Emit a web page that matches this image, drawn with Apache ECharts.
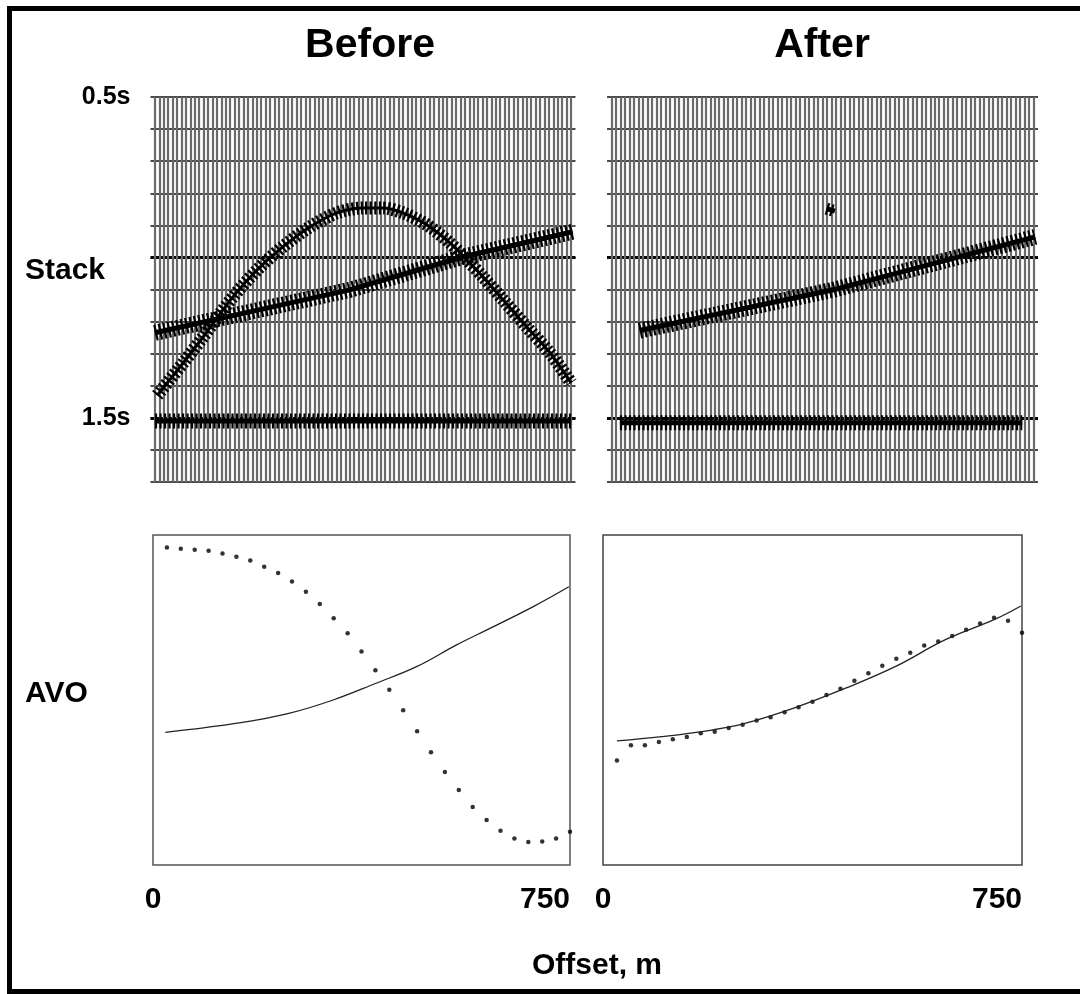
<!DOCTYPE html>
<html>
<head>
<meta charset="utf-8">
<script src="https://cdn.jsdelivr.net/npm/echarts@6/dist/echarts.min.js"></script>
<style>
  html, body { margin: 0; padding: 0; background: #fff; overflow: hidden; }
  #chart { width: 1080px; height: 994px; }
</style>
</head>
<body>
<div id="chart"></div>
<script>
// stack events, [offset m, time s]
let beforeLinear = [[0, 1.235], [352, 1.101], [557, 0.998], [755, 0.92]]
let beforeCurve = [[4, 1.43], [51, 1.329], [87, 1.248], [141, 1.123], [190, 1.03], [231, 0.967],
  [280, 0.905], [329, 0.861], [376, 0.846], [412, 0.846], [448, 0.861], [492, 0.899],
  [533, 0.955], [564, 1.008], [593, 1.061], [629, 1.132], [672, 1.217], [714, 1.298], [752, 1.391]]
let beforeFlat = [[0, 1.51], [752, 1.51]]
let afterLinear = [[50, 1.228], [395, 1.101], [755, 0.936]]
let afterFlat = [[15, 1.515], [732, 1.515]]
let afterBlip = [[383, 0.848], [398, 0.856]]
let timeLabels = {0.5: '0.5s', 1.5: '1.5s'}

// AVO amplitudes (relative, 0-100)
let avoOffsets = [25, 50, 75, 100, 125, 150, 175, 200, 225, 250, 275, 300, 325, 350, 375,
  400, 425, 450, 475, 500, 525, 550, 575, 600, 625, 650, 675, 700, 725, 750]
let beforeDots = [96.2, 95.8, 95.5, 95.2, 94.4, 93.4, 92.3, 90.4, 88.5, 85.9, 82.8, 79.1, 74.8, 70.2, 64.7,
  59.0, 53.1, 46.9, 40.5, 34.2, 28.2, 22.7, 17.6, 13.6, 10.4, 8.0, 7.0, 7.1, 8.0, 10.1]
let afterDots = [31.7, 36.3, 36.3, 37.3, 38.1, 38.8, 39.9, 40.4, 41.5, 42.5, 43.8, 44.8, 46.3, 47.8, 49.5,
  51.5, 53.4, 55.8, 58.1, 60.4, 62.5, 64.3, 66.5, 67.7, 69.4, 71.3, 73.2, 74.9, 74.0, 70.4]
let beforeFitX = [22, 97, 175, 246, 324, 400, 474, 546, 606, 684, 748]
let beforeFitY = [40.2, 41.7, 43.6, 46.0, 50.0, 55.0, 60.1, 66.7, 71.7, 78.3, 84.3]
let afterFitX = [25, 105, 195, 254, 344, 433, 523, 612, 702, 748]
let afterFitY = [37.6, 38.9, 40.9, 42.9, 47.7, 53.5, 60.1, 68.2, 74.5, 78.5]

let font = '"Liberation Sans", Arial, Helvetica, sans-serif'
let zip = (xs, ys) => xs.map((x, i) => [x, ys[i]])

function traceAxis(grid) {
  return {
    type: 'value', gridIndex: grid, min: -8, max: 760, interval: 8,
    axisLine: {show: false}, axisTick: {show: false}, axisLabel: {show: false},
    splitLine: {show: true, showMinLine: false, showMaxLine: false,
      lineStyle: {color: '#6a6a6a', width: 2.2}}
  }
}

function timeAxis(grid) {
  return {
    type: 'value', gridIndex: grid, inverse: true, position: 'left',
    min: 0.5, max: 1.7, interval: 0.1,
    axisLine: {show: false}, axisTick: {show: false}, axisLabel: {show: false},
    splitLine: {show: true, lineStyle: {color: '#111', width: 1.5}}
  }
}

function boldAxis(grid, labels) {
  return {
    type: 'value', gridIndex: grid, inverse: true, position: 'left',
    min: 0.5, max: 1.7, interval: 0.5,
    axisLine: {show: false}, axisTick: {show: false},
    axisLabel: {show: labels, showMaxLabel: false, margin: 20,
      formatter: v => timeLabels[v] || '',
      color: '#000', fontFamily: font, fontWeight: 'bold', fontSize: 25},
    splitLine: {show: true, showMinLine: false, showMaxLine: false,
      lineStyle: {color: '#000', width: 3}}
  }
}

function offsetAxis(grid) {
  return {
    type: 'value', gridIndex: grid, min: 0, max: 750, interval: 750,
    axisLine: {show: false}, axisTick: {show: false}, splitLine: {show: false},
    axisLabel: {show: true, margin: 20, alignMaxLabel: 'right',
      color: '#000', fontFamily: font, fontWeight: 'bold', fontSize: 30}
  }
}

function ampAxis(grid) {
  return {
    type: 'value', gridIndex: grid, min: 0, max: 100,
    axisLine: {show: false}, axisTick: {show: false}, axisLabel: {show: false},
    splitLine: {show: false}
  }
}

// an event drawn as a hatched band with a solid core
function event(data, axis, core, band, smooth) {
  let base = {type: 'line', xAxisIndex: axis, yAxisIndex: axis * 2, data: data,
    symbol: 'none', smooth: smooth || false, silent: true, animation: false}
  return [
    Object.assign({}, base, {lineStyle: {color: '#000', width: band, type: [2.2, 2.3], cap: 'butt'}}),
    Object.assign({}, base, {lineStyle: {color: '#000', width: core}})
  ]
}

function avo(axis, dots, fit) {
  return [
    {type: 'scatter', xAxisIndex: axis, yAxisIndex: axis + 2, data: dots,
      symbolSize: 4.5, itemStyle: {color: '#000'}, silent: true, animation: false},
    {type: 'line', xAxisIndex: axis, yAxisIndex: axis + 2, data: fit, smooth: 0.4,
      symbol: 'none', lineStyle: {color: '#222', width: 1.3}, silent: true, animation: false}
  ]
}

let chart = echarts.init(document.getElementById('chart'))
chart.setOption({
  backgroundColor: '#fff',
  animation: false,
  grid: [
    {left: 150.5, top: 97, width: 425, height: 385},
    {left: 607, top: 97, width: 431, height: 385},
    {left: 153, top: 535, width: 417, height: 330, show: true, borderColor: '#555', borderWidth: 1.5},
    {left: 603, top: 535, width: 419, height: 330, show: true, borderColor: '#444', borderWidth: 1.5}
  ],
  xAxis: [traceAxis(0), traceAxis(1), offsetAxis(2), offsetAxis(3)],
  yAxis: [timeAxis(0), boldAxis(0, true), timeAxis(1), boldAxis(1, false), ampAxis(2), ampAxis(3)],
  series: [].concat(
    event(beforeFlat, 0, 5, 15),
    event(beforeCurve, 0, 3, 13, 0.3),
    event(beforeLinear, 0, 5, 16),
    event(afterFlat, 1, 5, 15),
    event(afterLinear, 1, 5, 16),
    event(afterBlip, 1, 5, 12),
    avo(2, zip(avoOffsets, beforeDots), zip(beforeFitX, beforeFitY)),
    avo(3, zip(avoOffsets, afterDots), zip(afterFitX, afterFitY))
  ),
  graphic: [
    {type: 'rect', silent: true, z: 100,
      shape: {x: 9.5, y: 8.5, width: 1200, height: 983},
      style: {fill: null, stroke: '#000', lineWidth: 5}},
    {type: 'text', x: 370, y: 46, silent: true,
      style: {text: 'Before', font: 'bold 41px ' + font, fill: '#000', align: 'center', verticalAlign: 'middle'}},
    {type: 'text', x: 822, y: 46, silent: true,
      style: {text: 'After', font: 'bold 41px ' + font, fill: '#000', align: 'center', verticalAlign: 'middle'}},
    {type: 'text', x: 25, y: 271, silent: true,
      style: {text: 'Stack', font: 'bold 30px ' + font, fill: '#000', align: 'left', verticalAlign: 'middle'}},
    {type: 'text', x: 25, y: 694, silent: true,
      style: {text: 'AVO', font: 'bold 30px ' + font, fill: '#000', align: 'left', verticalAlign: 'middle'}},
    {type: 'text', x: 597, y: 966, silent: true,
      style: {text: 'Offset, m', font: 'bold 30px ' + font, fill: '#000', align: 'center', verticalAlign: 'middle'}}
  ]
})
</script>
</body>
</html>
